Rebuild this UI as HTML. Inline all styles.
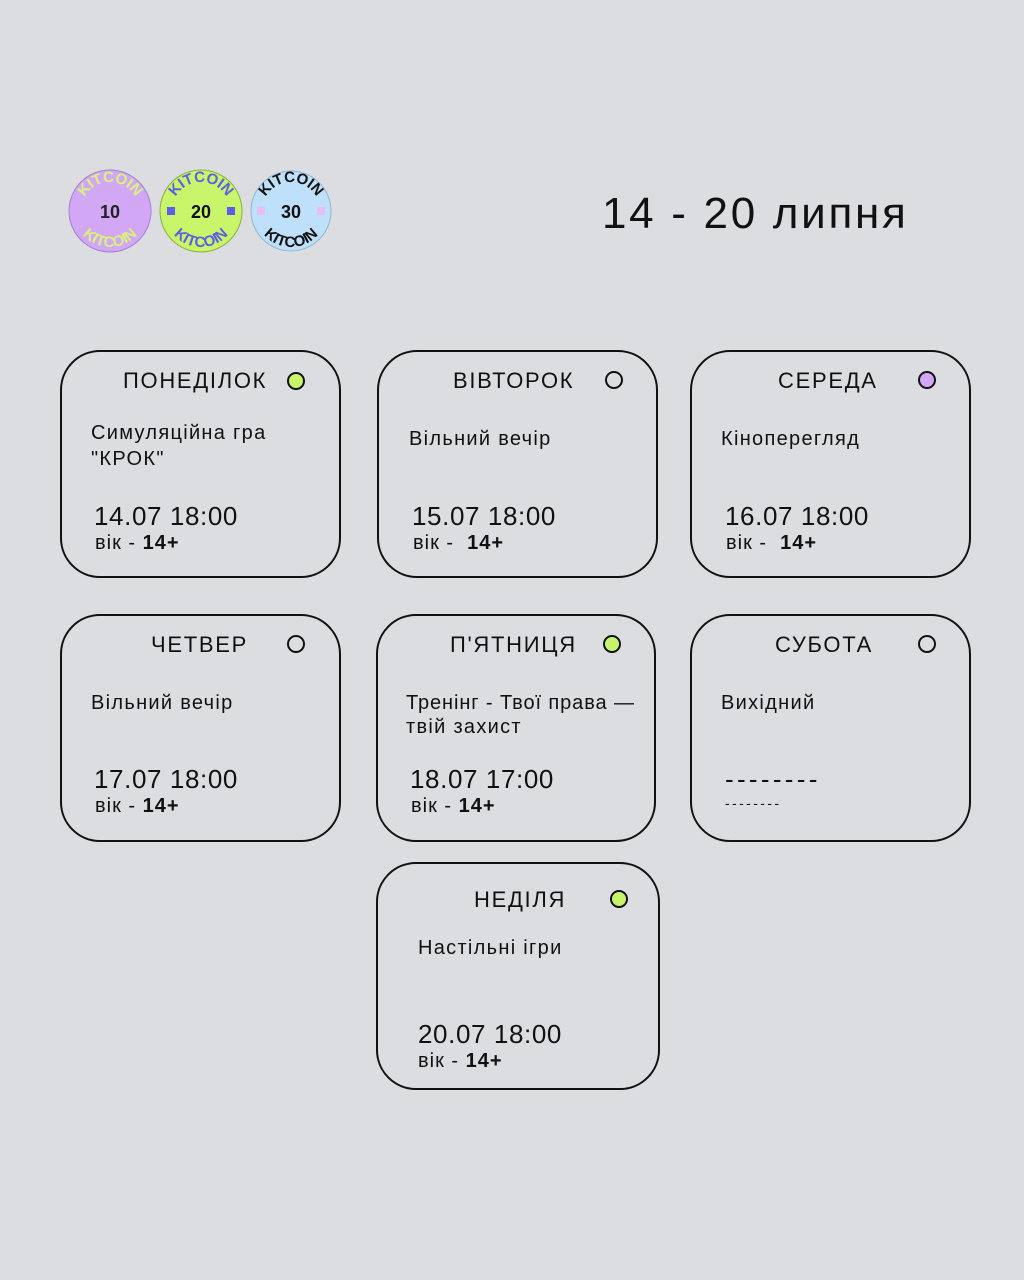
<!DOCTYPE html>
<html><head><meta charset="utf-8"><style>
body{margin:0;width:1024px;height:1280px;background:#dcdde1;position:relative;overflow:hidden;font-family:"Liberation Sans",sans-serif;color:#111}
.c{position:absolute;border:2.5px solid #111;border-radius:40px;box-sizing:border-box}
.t{position:absolute;white-space:nowrap;line-height:1}
.h{font-size:22px;letter-spacing:1.7px}
.s{font-size:20px;letter-spacing:1.3px}
.dt{font-size:26px;letter-spacing:0.6px}
.a{font-size:20px;letter-spacing:1px}
.d{position:absolute;width:18px;height:18px;border-radius:50%;border:2px solid #111;box-sizing:border-box}
</style></head><body>
<svg width="1024" height="300" style="position:absolute;left:0;top:0">
<defs>
<path id="tp1" d="M 81 211 A 29 29 0 0 1 139 211"/>
<path id="bp1" d="M 74 211 A 36 36 0 0 0 146 211"/>
<path id="tp2" d="M 172 211 A 29 29 0 0 1 230 211"/>
<path id="bp2" d="M 165 211 A 36 36 0 0 0 237 211"/>
<path id="tp3" d="M 262 211 A 29 29 0 0 1 320 211"/>
<path id="bp3" d="M 255 211 A 36 36 0 0 0 327 211"/>
</defs>
<g font-family="Liberation Sans" font-weight="bold" font-size="15">
<circle cx="110" cy="211" r="41" fill="#d2a8f6" stroke="#a67fd0" stroke-width="1"/>
<text fill="#d8f27a"><textPath href="#tp1" startOffset="50%" text-anchor="middle">KITCOIN</textPath></text>
<text fill="#d8f27a"><textPath href="#bp1" startOffset="50%" text-anchor="middle">KITCOIN</textPath></text>
<text x="110" y="218" text-anchor="middle" font-size="18" fill="#222">10</text>
<circle cx="201" cy="211" r="41" fill="#c8f56a" stroke="#8bb040" stroke-width="1"/>
<text fill="#5c5ee6"><textPath href="#tp2" startOffset="50%" text-anchor="middle">KITCOIN</textPath></text>
<text fill="#5c5ee6"><textPath href="#bp2" startOffset="50%" text-anchor="middle">KITCOIN</textPath></text>
<rect x="167" y="207" width="8" height="8" fill="#5c5ee6"/><rect x="227" y="207" width="8" height="8" fill="#5c5ee6"/>
<text x="201" y="218" text-anchor="middle" font-size="18" fill="#111">20</text>
<circle cx="291" cy="211" r="40" fill="#bfe0fb" stroke="#8db6d8" stroke-width="1"/>
<text fill="#111"><textPath href="#tp3" startOffset="50%" text-anchor="middle">KITCOIN</textPath></text>
<text fill="#111"><textPath href="#bp3" startOffset="50%" text-anchor="middle">KITCOIN</textPath></text>
<rect x="257" y="207" width="8" height="8" fill="#e7bdf2"/><rect x="317" y="207" width="8" height="8" fill="#e7bdf2"/>
<text x="291" y="218" text-anchor="middle" font-size="18" fill="#111">30</text>
</g>
</svg>
<div class="t" style="left:602px;top:192px;font-size:44px;letter-spacing:2.7px">14 - 20 липня</div>

<div class="c" style="left:60px;top:350px;width:281px;height:228px"></div>
<div class="t h" style="left:123px;top:370px">ПОНЕДІЛОК</div>
<div class="d" style="left:287px;top:372px;background:#c6f46a"></div>
<div class="t s" style="left:91px;top:423px">Симуляційна гра</div>
<div class="t s" style="left:91px;top:449px">"КРОК"</div>
<div class="t dt" style="left:94px;top:503px">14.07 18:00</div>
<div class="t a" style="left:95px;top:533px">вік - <b>14+</b></div>

<div class="c" style="left:377px;top:350px;width:281px;height:228px"></div>
<div class="t h" style="left:453px;top:370px">ВІВТОРОК</div>
<div class="d" style="left:605px;top:371px"></div>
<div class="t s" style="left:409px;top:429px">Вільний вечір</div>
<div class="t dt" style="left:412px;top:503px">15.07 18:00</div>
<div class="t a" style="left:413px;top:533px">вік - &nbsp;<b>14+</b></div>

<div class="c" style="left:690px;top:350px;width:281px;height:228px"></div>
<div class="t h" style="left:778px;top:370px">СЕРЕДА</div>
<div class="d" style="left:918px;top:371px;background:#d2a8f6"></div>
<div class="t s" style="left:721px;top:429px">Кіноперегляд</div>
<div class="t dt" style="left:725px;top:503px">16.07 18:00</div>
<div class="t a" style="left:726px;top:533px">вік - &nbsp;<b>14+</b></div>

<div class="c" style="left:60px;top:614px;width:281px;height:228px"></div>
<div class="t h" style="left:151px;top:634px">ЧЕТВЕР</div>
<div class="d" style="left:287px;top:635px"></div>
<div class="t s" style="left:91px;top:693px">Вільний вечір</div>
<div class="t dt" style="left:94px;top:766px">17.07 18:00</div>
<div class="t a" style="left:95px;top:796px">вік - <b>14+</b></div>

<div class="c" style="left:376px;top:614px;width:280px;height:228px"></div>
<div class="t h" style="left:450px;top:634px">П'ЯТНИЦЯ</div>
<div class="d" style="left:603px;top:635px;background:#c6f46a"></div>
<div class="t s" style="left:406px;top:693px;letter-spacing:0.9px">Тренінг - Твої права —</div>
<div class="t s" style="left:406px;top:717px">твій захист</div>
<div class="t dt" style="left:410px;top:766px">18.07 17:00</div>
<div class="t a" style="left:411px;top:796px">вік - <b>14+</b></div>

<div class="c" style="left:690px;top:614px;width:281px;height:228px"></div>
<div class="t h" style="left:775px;top:634px">СУБОТА</div>
<div class="d" style="left:918px;top:635px"></div>
<div class="t s" style="left:721px;top:693px">Вихідний</div>
<div class="t" style="left:725px;top:766px;font-size:26px;letter-spacing:3.3px">--------</div>
<div class="t" style="left:725px;top:796px;font-size:14px;letter-spacing:2.4px">--------</div>

<div class="c" style="left:376px;top:862px;width:284px;height:228px"></div>
<div class="t h" style="left:474px;top:889px">НЕДІЛЯ</div>
<div class="d" style="left:610px;top:890px;background:#c6f46a"></div>
<div class="t s" style="left:418px;top:938px">Настільні ігри</div>
<div class="t dt" style="left:418px;top:1021px">20.07 18:00</div>
<div class="t a" style="left:418px;top:1051px">вік - <b>14+</b></div>
</body></html>
